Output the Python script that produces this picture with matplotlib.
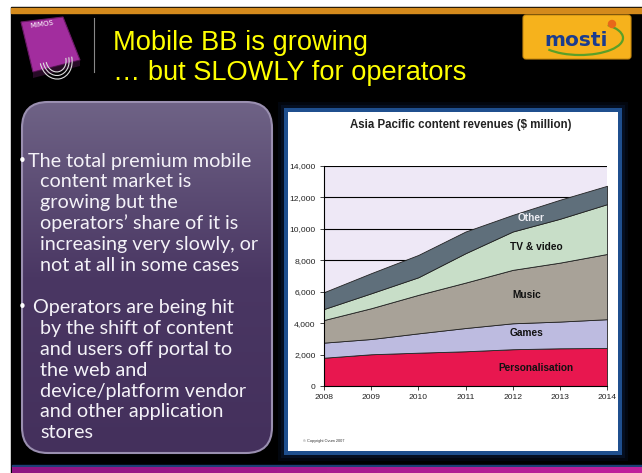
import numpy as np
import matplotlib
matplotlib.use('Agg')
import matplotlib.pyplot as plt
from matplotlib.patches import FancyBboxPatch, Rectangle, Polygon, Arc, Circle

# Data ($ million)
years = [2008, 2009, 2010, 2011, 2012, 2013, 2014]
personalisation = [1800, 2020, 2120, 2210, 2340, 2400, 2420]
games = [960, 970, 1230, 1480, 1650, 1700, 1830]
music = [1440, 1960, 2450, 2890, 3400, 3750, 4150]
tv_video = [700, 950, 1120, 1870, 2440, 2790, 3170]
other = [1070, 1280, 1420, 1380, 1060, 1210, 1170]
series_names = ['Personalisation', 'Games', 'Music', 'TV & video', 'Other']
series_colors = ['#e8174f', '#bdbbe0', '#a8a298', '#c8dec8', '#5f6f7b']
yticks = [0, 2000, 4000, 6000, 8000, 10000, 12000, 14000]
ytick_labels = ['0', '2,000', '4,000', '6,000', '8,000', '10,000', '12,000', '14,000']

bullets = [
    ['The total premium mobile', 'content market is', 'growing but the',
     "operators\u2019 share of it is", 'increasing very slowly, or',
     'not at all in some cases'],
    [' Operators are being hit', 'by the shift of content',
     'and users off portal to', 'the web and', 'device/platform vendor',
     'and other application', 'stores'],
]

W, H = 642, 473
fig = plt.figure(figsize=(W / 100, H / 100), dpi=100)
fig.patch.set_facecolor('white')

# slide background drawn in pixel coordinates
bg = fig.add_axes([0, 0, 1, 1])
bg.set_xlim(0, W)
bg.set_ylim(H, 0)
bg.axis('off')

bg.add_patch(Rectangle((11, 7), W - 11, H - 7, color='black', zorder=0))
bg.add_patch(Rectangle((11, 8), W - 11, 5, color='#d48a1c', zorder=1))
bg.add_patch(Rectangle((12, 465), W - 12, 2, color='#1c3f77', zorder=1))
strip = np.linspace(0, 1, 200).reshape(1, -1)
bg.imshow(strip, extent=(12, W, H, 467), cmap=matplotlib.colors.LinearSegmentedColormap.from_list(
    'mag', ['#8e1582', '#c0219c']), aspect='auto', zorder=1)

# MIMOS logo
bg.add_patch(Polygon([(21, 22), (63, 17), (80, 60), (33, 72)], closed=True,
                     facecolor='#a22d9e', edgecolor='#6a1a66', lw=0.8, zorder=2))
bg.add_patch(Polygon([(33, 72), (80, 60), (80, 66), (33, 78)], closed=True,
                     facecolor='#3a1038', alpha=0.7, zorder=2))
bg.text(42, 24, 'MIMOS', color='white', fontsize=5, rotation=8,
        family='DejaVu Sans', ha='center', va='center', zorder=3)
for r in (10, 13, 16):
    bg.add_patch(Arc((56, 60), 2 * r, 2.4 * r, angle=-12, theta1=0, theta2=180,
                     color='#dddddd', lw=0.8, zorder=3))
bg.plot([94, 94], [18, 72], color='#888888', lw=0.8, zorder=2)

# title
bg.text(113, 43, 'Mobile BB is growing', color='#ffff00', fontsize=19.6,
        family='Liberation Sans', va='center', ha='left', zorder=3)
bg.text(113, 73, '\u2026 but SLOWLY for operators', color='#ffff00', fontsize=19.6,
        family='Liberation Sans', va='center', ha='left', zorder=3)

# MOSTI logo
bg.add_patch(FancyBboxPatch((523, 15), 108, 44, boxstyle='round,pad=0,rounding_size=3',
                            facecolor='#f6b21c', edgecolor='#c88a10', lw=0.8, zorder=2))
bg.add_patch(Arc((580, 38), 86, 34, theta1=-25, theta2=160, color='#5aa028', lw=1.6, zorder=3))
bg.add_patch(Circle((612, 24), 3.5, color='#e8671a', zorder=4))
bg.text(576, 41, 'mosti', color='#1b3c8e', fontsize=14.5, fontweight='bold',
        family='DejaVu Sans', ha='center', va='center', zorder=4)

# purple text box with vertical gradient
box = FancyBboxPatch((22, 102), 250, 351, boxstyle='round,pad=0,rounding_size=26',
                     facecolor='none', edgecolor='#9a8fb0', lw=1.5, zorder=3)
bg.add_patch(box)
grad = np.linspace(0, 1, 256).reshape(-1, 1)
im = bg.imshow(grad, extent=(22, 272, 453, 102), aspect='auto', zorder=2,
               cmap=matplotlib.colors.LinearSegmentedColormap.from_list(
                   'pur', ['#6f6386', '#4a3763', '#44305c']))
im.set_clip_path(box)

y = 161
for para in bullets:
    bg.text(18, y, '\u2022', color='white', fontsize=11, va='center', ha='left', zorder=4)
    for i, line in enumerate(para):
        bg.text(28 if i == 0 else 40, y, line, color='#f4f2f8', fontsize=14.2, family='Lato',
                va='center', ha='left', zorder=4)
        y += 20.8
    y += 22

# chart panel with blue frame and dark glow
for pad, a in ((9, 0.25), (6, 0.45)):
    bg.add_patch(Rectangle((287 - pad, 111 - pad), 332 + 2 * pad, 341 + 2 * pad,
                           facecolor='#0a1a3a', edgecolor='none', alpha=a, zorder=2))
bg.add_patch(Rectangle((284, 108), 338, 347, facecolor='#1f4f8e', edgecolor='none', zorder=2))
bg.add_patch(Rectangle((288, 112), 330, 339, facecolor='white', edgecolor='none', zorder=3))
bg.text(461, 125, 'Asia Pacific content revenues ($ million)', fontsize=8.3,
        family='Liberation Sans', fontweight='bold', color='#222222',
        ha='center', va='center', zorder=4)
bg.text(303, 441, '\u00a9 Copyright Ovum 2007', fontsize=2.8, color='#333333',
        family='Liberation Sans', ha='left', va='center', zorder=4)

# the stacked area chart
ax = fig.add_axes([324 / W, 1 - 386 / H, 283 / W, 220 / H])
ax.set_zorder(5)
ax.set_facecolor('#eee8f6')
for v in yticks[1:]:
    ax.axhline(v, color='black', lw=0.8, zorder=0)
ax.stackplot(years, personalisation, games, music, tv_video, other,
             colors=series_colors, edgecolor='#222222', linewidth=0.6, zorder=2)
ax.set_xlim(2008, 2014)
ax.set_ylim(0, 14000)
ax.set_xticks(years)
ax.set_xticklabels([str(y) for y in years])
ax.set_yticks(yticks)
ax.set_yticklabels(ytick_labels)
ax.tick_params(labelsize=6.1, colors='#222222', length=3, width=0.6, pad=3)
for side in ('top', 'right'):
    ax.spines[side].set_visible(False)
for side in ('left', 'bottom'):
    ax.spines[side].set_linewidth(0.8)
for lab in ax.get_xticklabels() + ax.get_yticklabels():
    lab.set_family('Liberation Sans')

labels_pos = [(2012.5, 1130), (2012.3, 3360), (2012.3, 5800), (2012.5, 8870), (2012.4, 10700)]
for name, (lx, ly) in zip(series_names, labels_pos):
    ax.text(lx, ly, name, fontsize=7.3, fontweight='bold', family='Liberation Sans',
            color='#eeeef4' if name == 'Other' else '#111111',
            ha='center', va='center', zorder=4)

fig.savefig('out.png', dpi=100, facecolor=fig.get_facecolor())
